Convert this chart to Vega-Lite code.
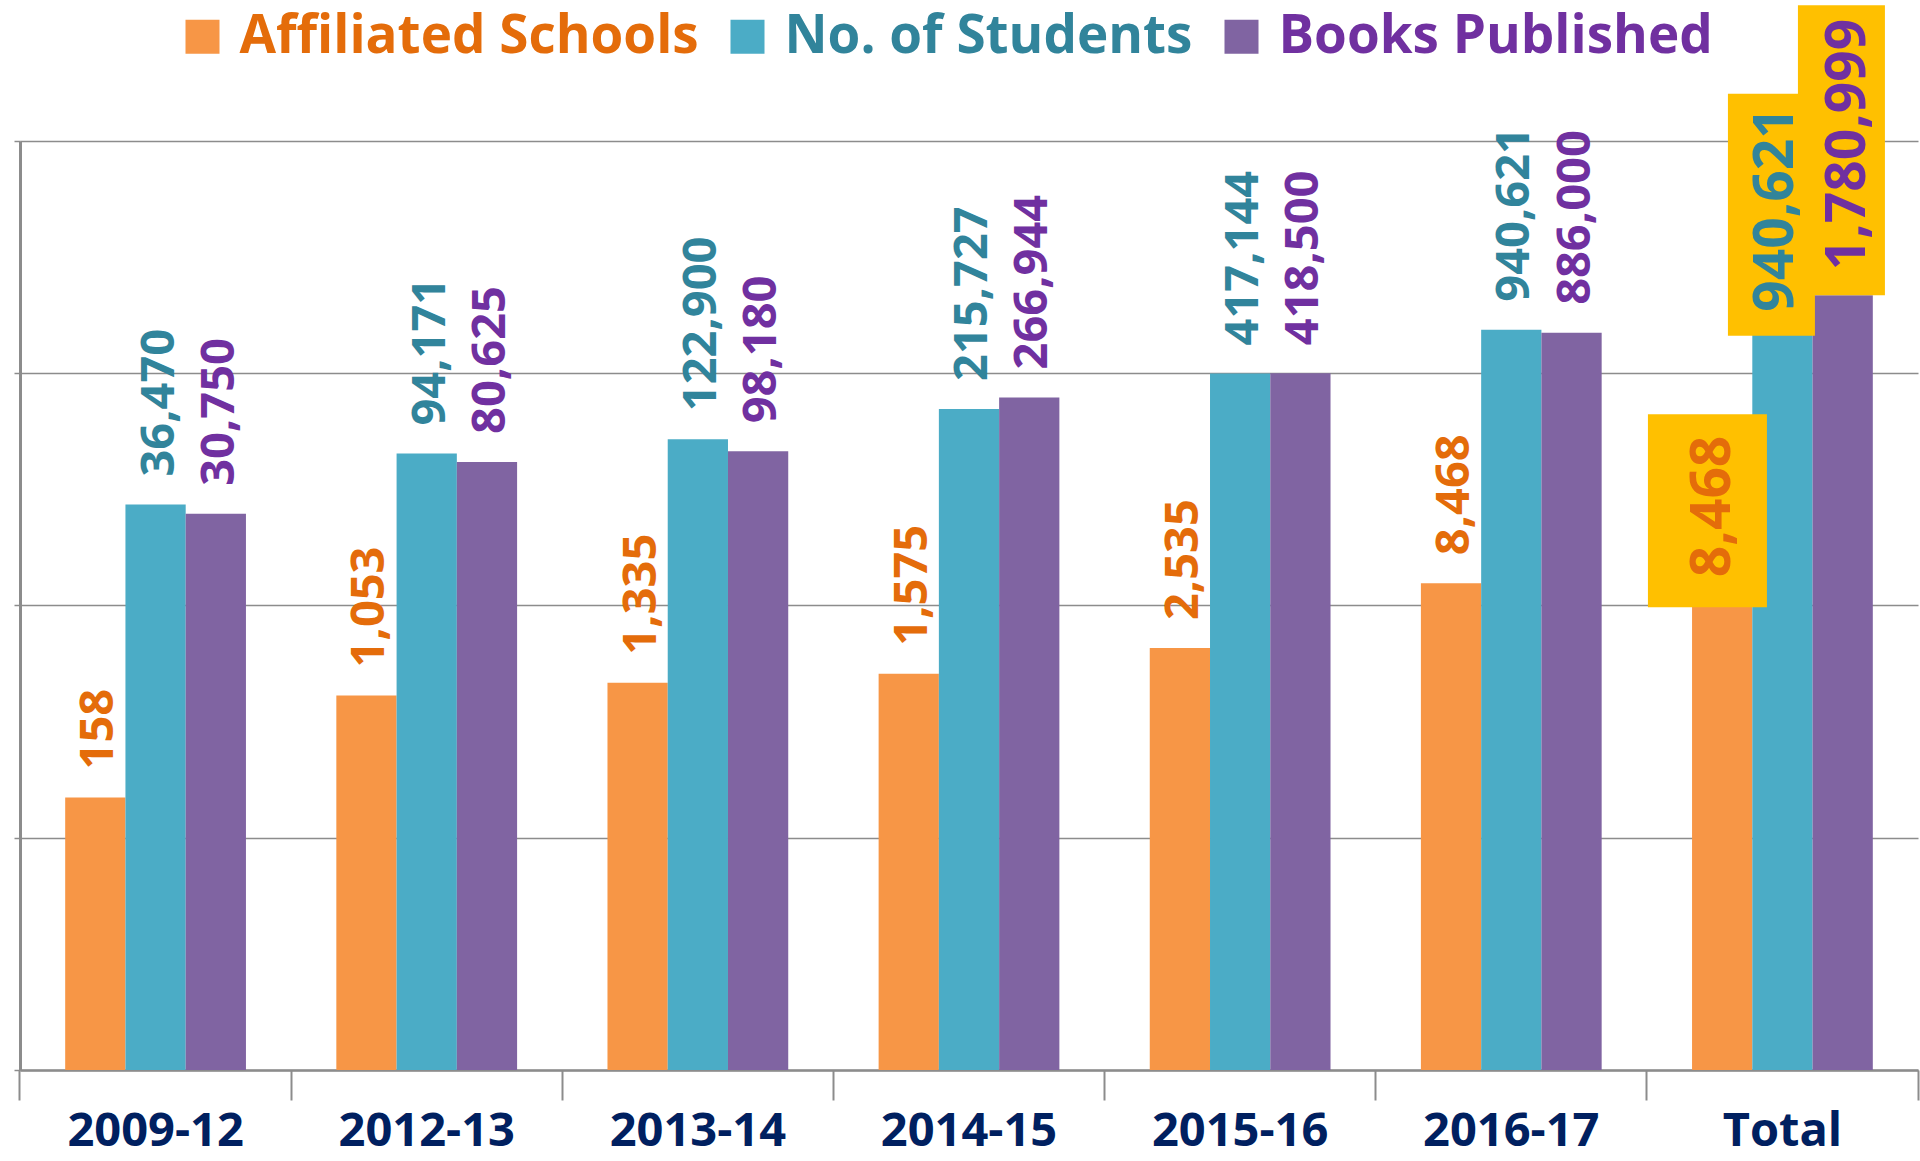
{
  "$schema": "https://vega.github.io/schema/vega-lite/v6.json",
  "width": 1898,
  "height": 929,
  "autosize": {"type": "none"},
  "padding": {"left": 20, "top": 141, "right": 2, "bottom": 91},
  "background": "white",
  "config": {"view": {"stroke": null}, "font": "Open Sans"},
  "data": {
    "values": [
      {"cat": "2009-12", "series": "Affiliated Schools", "value": 158},
      {"cat": "2009-12", "series": "No. of Students", "value": 36470},
      {"cat": "2009-12", "series": "Books Published", "value": 30750},
      {"cat": "2012-13", "series": "Affiliated Schools", "value": 1053},
      {"cat": "2012-13", "series": "No. of Students", "value": 94171},
      {"cat": "2012-13", "series": "Books Published", "value": 80625},
      {"cat": "2013-14", "series": "Affiliated Schools", "value": 1335},
      {"cat": "2013-14", "series": "No. of Students", "value": 122900},
      {"cat": "2013-14", "series": "Books Published", "value": 98180},
      {"cat": "2014-15", "series": "Affiliated Schools", "value": 1575},
      {"cat": "2014-15", "series": "No. of Students", "value": 215727},
      {"cat": "2014-15", "series": "Books Published", "value": 266944},
      {"cat": "2015-16", "series": "Affiliated Schools", "value": 2535},
      {"cat": "2015-16", "series": "No. of Students", "value": 417144},
      {"cat": "2015-16", "series": "Books Published", "value": 418500},
      {"cat": "2016-17", "series": "Affiliated Schools", "value": 8468},
      {"cat": "2016-17", "series": "No. of Students", "value": 940621},
      {"cat": "2016-17", "series": "Books Published", "value": 886000},
      {"cat": "Total", "series": "Affiliated Schools", "value": 8468},
      {"cat": "Total", "series": "No. of Students", "value": 940621},
      {"cat": "Total", "series": "Books Published", "value": 1780999}
    ]
  },
  "encoding": {
    "x": {
      "field": "cat",
      "type": "nominal",
      "sort": null,
      "scale": {"paddingInner": 0, "paddingOuter": 0},
      "axis": {
        "title": null,
        "bandPosition": 1,
        "tickExtra": true,
        "tickSize": 30,
        "tickColor": "#8c8c8c",
        "tickWidth": 2,
        "domainColor": "#8c8c8c",
        "domainWidth": 2.5,
        "labelPadding": 8,
        "labelLimit": 600,
        "labelFontSize": 47,
        "labelFont": "Open Sans",
        "labelFontWeight": "bold",
        "labelColor": "#002060",
        "labelAngle": 0,
        "labelBaseline": "top",
        "grid": false
      }
    },
    "y": {
      "field": "value",
      "type": "quantitative",
      "scale": {"type": "log", "domain": [1, 31300000], "nice": false},
      "axis": {
        "title": null,
        "values": [1, 74.8, 5595, 418500, 31300000],
        "labels": false,
        "grid": true,
        "gridColor": "#8c8c8c",
        "gridWidth": 1.5,
        "domainColor": "#8c8c8c",
        "domainWidth": 3,
        "tickColor": "#8c8c8c",
        "tickSize": 6,
        "tickWidth": 1.5
      }
    }
  },
  "layer": [
    {
      "mark": {"type": "bar"},
      "encoding": {
        "xOffset": {
          "field": "series",
          "type": "nominal",
          "sort": ["Affiliated Schools", "No. of Students", "Books Published"],
          "scale": {"paddingInner": 0, "paddingOuter": 0.75}
        },
        "y2": {"datum": 1},
        "color": {
          "field": "series",
          "type": "nominal",
          "scale": {
            "domain": ["Affiliated Schools", "No. of Students", "Books Published"],
            "range": ["#F79646", "#4BACC6", "#8064A2"]
          },
          "legend": {
            "orient": "none",
            "legendX": 156,
            "legendY": -131,
            "direction": "horizontal",
            "title": null,
            "symbolType": "square",
            "symbolSize": 1156,
            "symbolStrokeWidth": 0,
            "labelFontSize": 53,
            "labelFont": "Open Sans",
            "labelFontWeight": "bold",
            "labelOffset": 10.5,
            "labelLimit": 1000,
            "columnPadding": 22,
            "encode": {
              "labels": {
                "update": {
                  "fill": {"signal": "datum.value === 'Affiliated Schools' ? '#E46C0A' : datum.value === 'No. of Students' ? '#31849B' : '#7030A0'"}
                }
              }
            }
          }
        }
      }
    },
    {
      "transform": [{"filter": "datum.cat === 'Total' && datum.series === 'Affiliated Schools'"}],
      "mark": {"type": "bar", "color": "#FFC000", "width": 119, "xOffset": -75, "yOffset": 24, "y2Offset": -169},
      "encoding": {"y2": {"field": "value"}}
    },
    {
      "transform": [{"filter": "datum.cat === 'Total' && datum.series === 'No. of Students'"}],
      "mark": {"type": "bar", "color": "#FFC000", "width": 87, "xOffset": -11, "yOffset": 6, "y2Offset": -236},
      "encoding": {"y2": {"field": "value"}}
    },
    {
      "transform": [{"filter": "datum.cat === 'Total' && datum.series === 'Books Published'"}],
      "mark": {"type": "bar", "color": "#FFC000", "width": 87, "xOffset": 59, "yOffset": 0, "y2Offset": -290},
      "encoding": {"y2": {"field": "value"}}
    },
    {
      "transform": [{"filter": "datum.cat !== 'Total'"}],
      "mark": {"type": "text", "angle": 270, "align": "left", "baseline": "middle", "dx": 28, "dy": 4, "fontSize": 47, "fontWeight": "bold", "font": "Open Sans"},
      "encoding": {
        "xOffset": {
          "field": "series",
          "type": "nominal",
          "sort": ["Affiliated Schools", "No. of Students", "Books Published"]
        },
        "text": {"field": "value", "type": "quantitative", "format": ","},
        "fill": {
          "field": "series",
          "type": "nominal",
          "scale": {
            "domain": ["Affiliated Schools", "No. of Students", "Books Published"],
            "range": ["#E46C0A", "#31849B", "#7030A0"]
          },
          "legend": null
        }
      }
    },
    {
      "transform": [{"filter": "datum.cat === 'Total' && datum.series === 'Affiliated Schools'"}],
      "mark": {"type": "text", "angle": 270, "align": "left", "baseline": "middle", "dx": 6, "dy": -9, "fontSize": 55, "fontWeight": "bold", "font": "Open Sans", "fill": "#E46C0A"},
      "encoding": {
        "xOffset": {"field": "series", "type": "nominal", "sort": ["Affiliated Schools", "No. of Students", "Books Published"]},
        "text": {"field": "value", "type": "quantitative", "format": ","}
      }
    },
    {
      "transform": [{"filter": "datum.cat === 'Total' && datum.series === 'No. of Students'"}],
      "mark": {"type": "text", "angle": 270, "align": "left", "baseline": "middle", "dx": 18, "dy": -6.5, "fontSize": 55, "fontWeight": "bold", "font": "Open Sans", "fill": "#31849B"},
      "encoding": {
        "xOffset": {"field": "series", "type": "nominal", "sort": ["Affiliated Schools", "No. of Students", "Books Published"]},
        "text": {"field": "value", "type": "quantitative", "format": ","}
      }
    },
    {
      "transform": [{"filter": "datum.cat === 'Total' && datum.series === 'Books Published'"}],
      "mark": {"type": "text", "angle": 270, "align": "left", "baseline": "middle", "dx": 25, "dy": 5, "fontSize": 55, "fontWeight": "bold", "font": "Open Sans", "fill": "#7030A0"},
      "encoding": {
        "xOffset": {"field": "series", "type": "nominal", "sort": ["Affiliated Schools", "No. of Students", "Books Published"]},
        "text": {"field": "value", "type": "quantitative", "format": ","}
      }
    }
  ]
}
